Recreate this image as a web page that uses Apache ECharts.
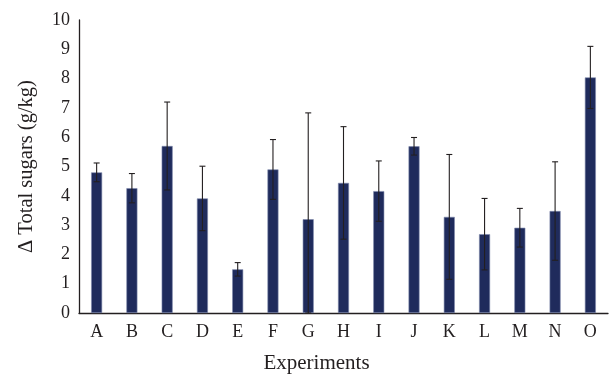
<!DOCTYPE html>
<html>
<head>
<meta charset="utf-8">
<script src="https://cdn.jsdelivr.net/npm/echarts@6/dist/echarts.min.js"></script>
<style>html,body{margin:0;padding:0;background:#fff;}#c{width:610px;height:377px;}</style>
</head>
<body>
<div id="c"></div>
<script>
const categories = ['A','B','C','D','E','F','G','H','I','J','K','L','M','N','O'];
const means = [4.80, 4.26, 5.70, 3.91, 1.49, 4.90, 3.20, 4.44, 4.16, 5.69, 3.28, 2.69, 2.91, 3.48, 8.04];
const errors = [0.32, 0.50, 1.50, 1.10, 0.23, 1.02, 3.63, 1.92, 1.03, 0.30, 2.13, 1.22, 0.66, 1.68, 1.06];
const yTicks = [0,1,2,3,4,5,6,7,8,9,10];

const errData = categories.map((c, i) => [i, Math.max(0, means[i] - errors[i]), means[i] + errors[i]]);
const font = '"Liberation Serif", "DejaVu Serif", serif';
const chart = echarts.init(document.getElementById('c'), null, {renderer: 'canvas'});
chart.setOption({
  animation: false,
  grid: {left: 79, right: 2, top: 20, bottom: 64, containLabel: false, outerBoundsMode: 'none'},
  xAxis: {
    type: 'category', data: categories,
    axisLine: {lineStyle: {color: '#231f20', width: 1.3}},
    axisTick: {show: false},
    axisLabel: {color: '#231f20', fontFamily: font, fontSize: 18, margin: 10},
    name: 'Experiments', nameLocation: 'middle', nameGap: 40,
    nameTextStyle: {color: '#231f20', fontFamily: font, fontSize: 21, padding: [0, 54, 0, 0]}
  },
  yAxis: {
    type: 'value', min: 0, max: 10, interval: 1,
    axisLine: {show: true, lineStyle: {color: '#231f20', width: 1.3}},
    axisTick: {show: false},
    splitLine: {show: false},
    axisLabel: {color: '#231f20', fontFamily: font, fontSize: 18, margin: 9,
      formatter: v => yTicks.includes(v) ? String(v) : ''},
    name: 'Δ Total sugars (g/kg)', nameLocation: 'middle', nameGap: 42,
    nameTextStyle: {color: '#231f20', fontFamily: font, fontSize: 20.5}
  },
  series: [
    {
      type: 'bar', data: means, barWidth: 11,
      itemStyle: {color: '#1f2b5c', borderColor: '#7f89ad', borderWidth: 0.6}
    },
    {
      type: 'custom', data: errData, z: 10,
      renderItem: function (params, api) {
        const x = api.coord([api.value(0), 0])[0];
        const lo = api.coord([api.value(0), api.value(1)])[1];
        const hi = api.coord([api.value(0), api.value(2)])[1];
        const w = 3;
        const st = {stroke: '#231f20', lineWidth: 1.1};
        return {type: 'group', children: [
          {type: 'line', shape: {x1: x, y1: hi, x2: x, y2: lo}, style: st},
          {type: 'line', shape: {x1: x - w, y1: hi, x2: x + w, y2: hi}, style: st},
          {type: 'line', shape: {x1: x - w, y1: lo, x2: x + w, y2: lo}, style: st}
        ]};
      }
    }
  ]
});
</script>
</body>
</html>
